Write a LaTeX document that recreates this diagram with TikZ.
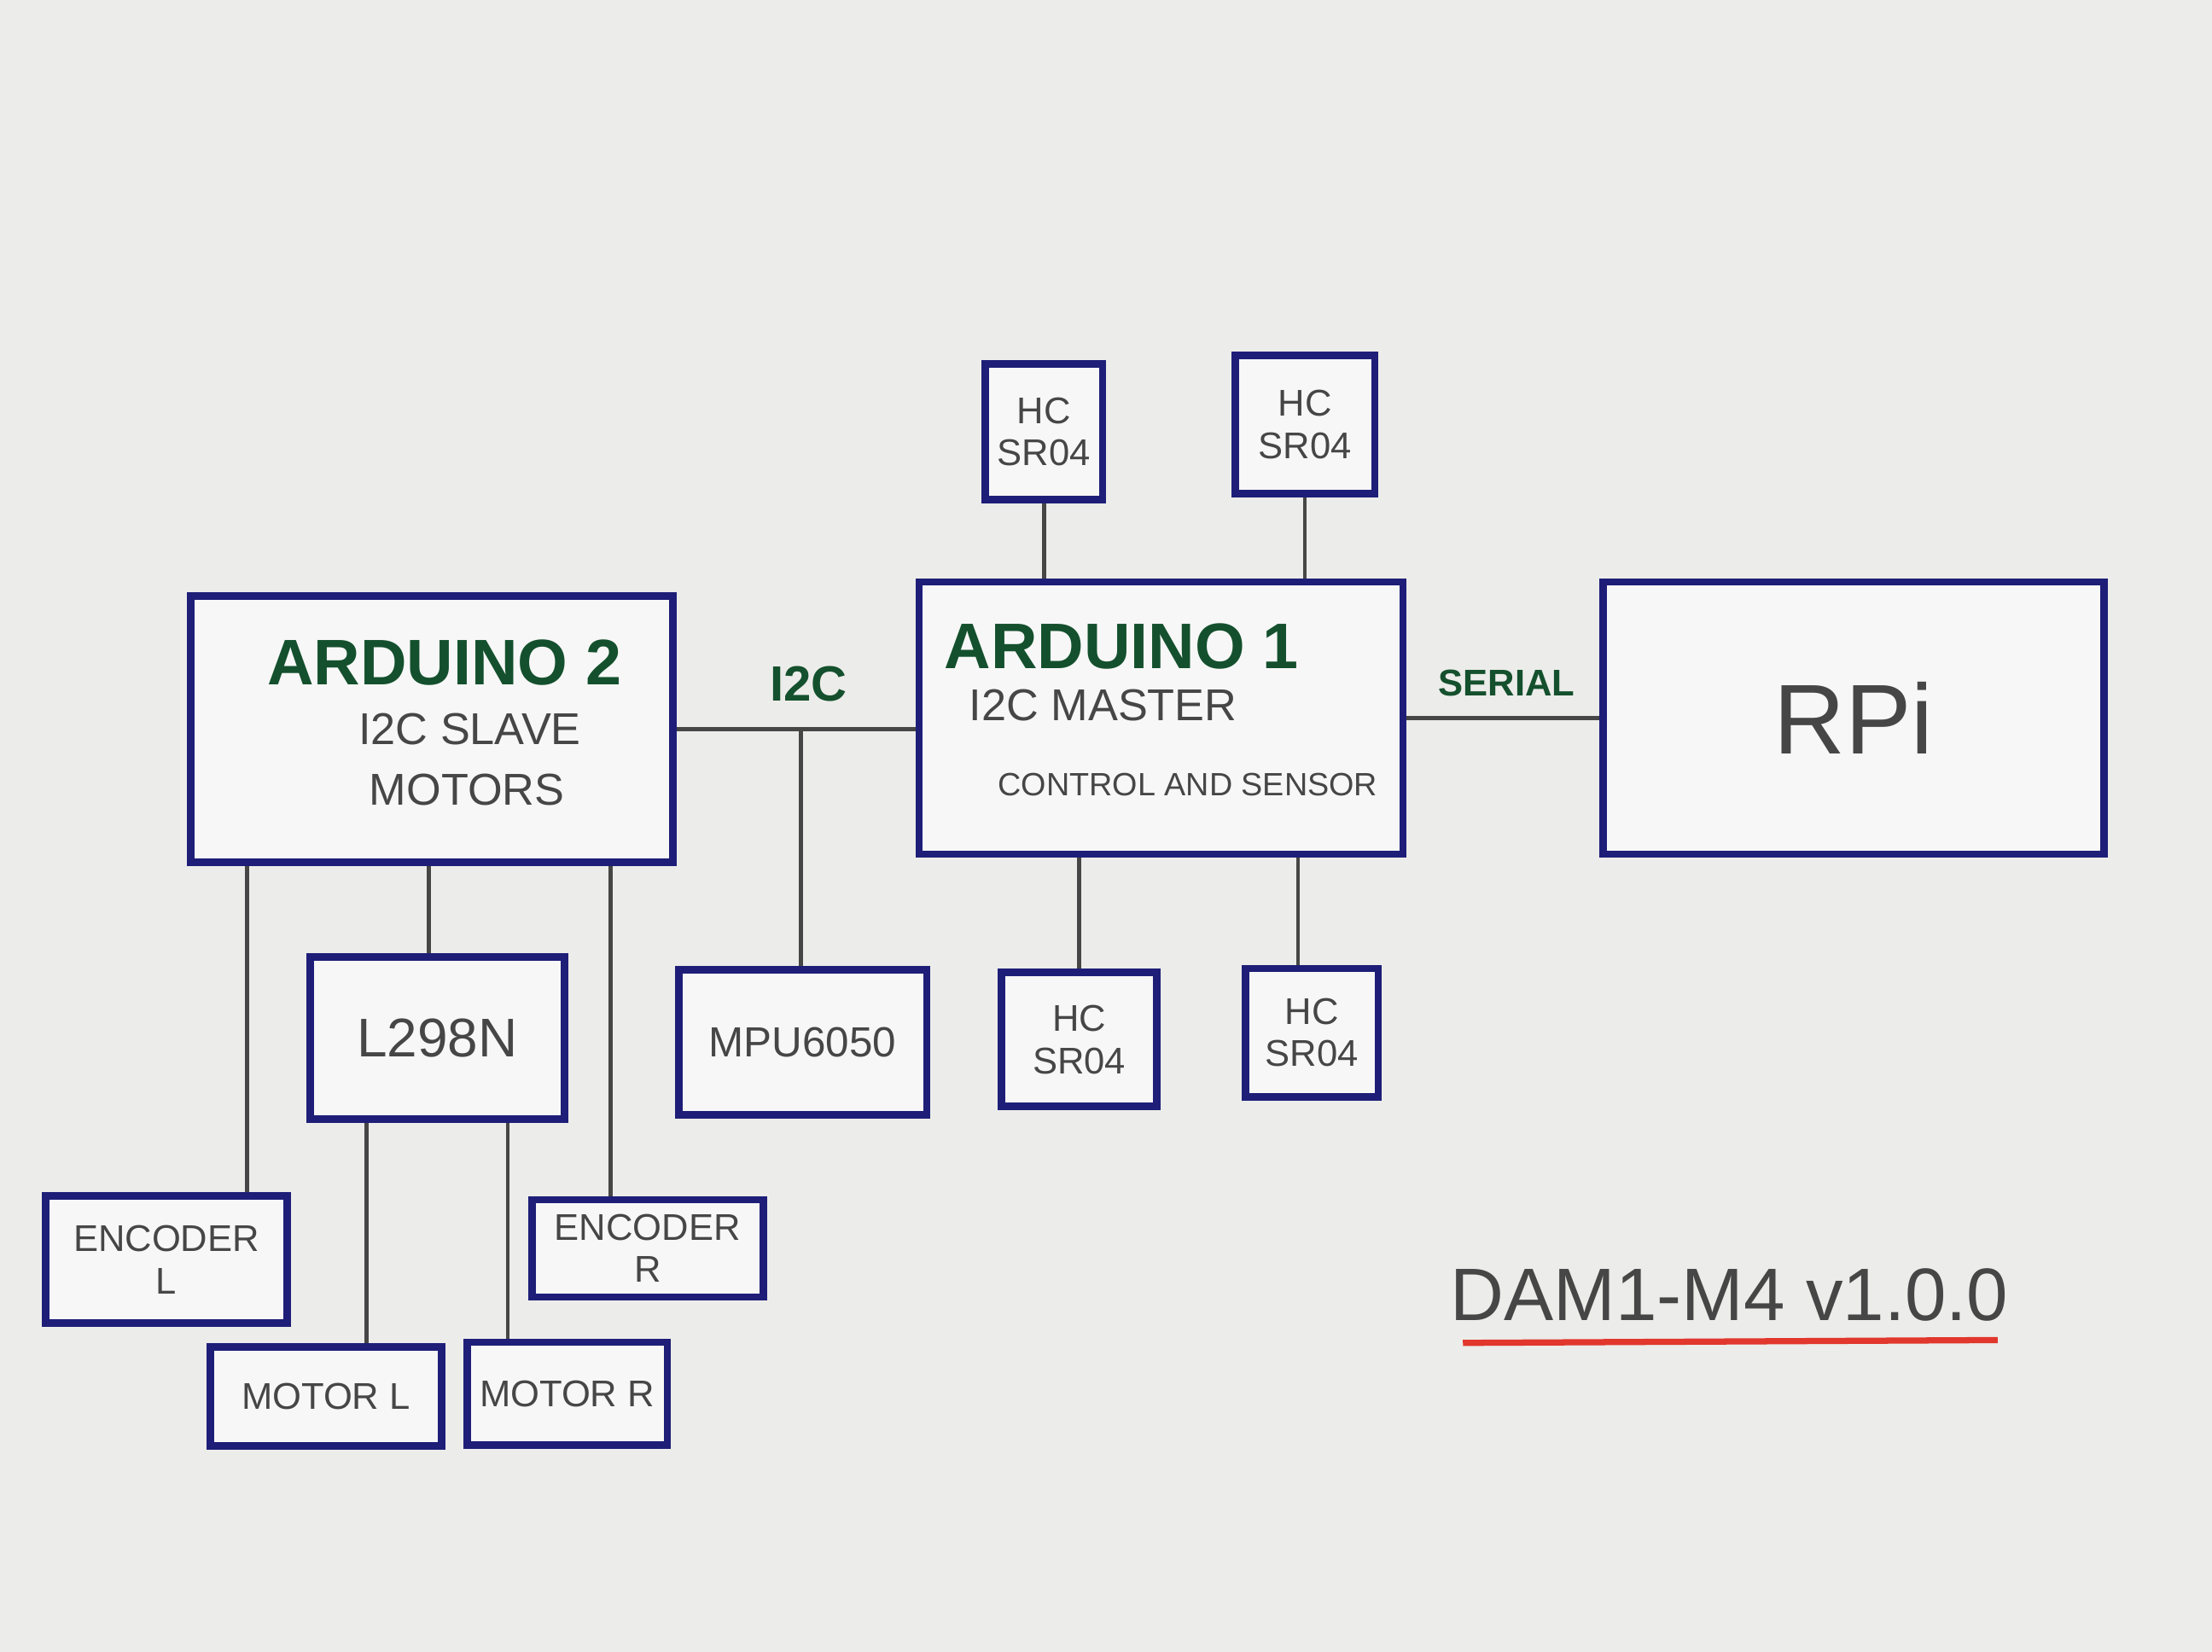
\documentclass[tikz,border=0pt]{standalone}
\usepackage{fontspec}
\setmainfont{Liberation Sans}
\usetikzlibrary{calc}
\definecolor{paper}{RGB}{236,236,234}
\definecolor{pen}{RGB}{30,30,120}
\definecolor{ink}{RGB}{70,70,70}
\definecolor{marker}{RGB}{20,80,45}
\definecolor{redline}{RGB}{225,55,45}

\begin{document}
\begin{tikzpicture}[x=0.02cm,y=-0.02cm,
    box/.style={draw=pen,line width=3pt,fill=white!60!paper,inner sep=0pt,font=\fontsize{15}{17}\selectfont,text=ink,align=center},
    wire/.style={draw=ink,line width=1.6pt},
    green/.style={text=marker,font=\fontsize{26}{28}\selectfont\bfseries},
    note/.style={text=ink,font=\fontsize{18}{20}\selectfont}]

    \fill [paper] (0,0) rectangle (1568,1171);

    % main boards
    \node [box,minimum width=6.84cm,minimum height=3.78cm] (ard2) at (306,517) {};
    \node [box,minimum width=6.86cm,minimum height=3.86cm] (ard1) at (823,509) {};
    \node [box,minimum width=7.1cm,minimum height=3.86cm,font=\fontsize{40}{42}\selectfont] (rpi) at (1314,509) {RPi};

    \node [green] (ard2t) at (315,470) {ARDUINO 2};
    \node [note] (ard2a) at (333,517) {I2C SLAVE};
    \node [note] (ard2b) at (331,560) {MOTORS};
    \node [green] (ard1t) at (795,458) {ARDUINO 1};
    \node [note] (ard1a) at (782,500) {I2C MASTER};
    \node [note,font=\fontsize{13}{15}\selectfont] (ard1b) at (842,556) {CONTROL AND SENSOR};

    % sensors and drivers
    \node [box,minimum width=1.66cm,minimum height=1.92cm] (hc1) at (740,306) {HC\\SR04};
    \node [box,minimum width=1.98cm,minimum height=1.96cm] (hc2) at (925,301) {HC\\SR04};
    \node [box,minimum width=2.2cm,minimum height=1.9cm] (hc3) at (765,737) {HC\\SR04};
    \node [box,minimum width=1.88cm,minimum height=1.82cm] (hc4) at (930,732) {HC\\SR04};
    \node [box,minimum width=3.52cm,minimum height=2.06cm,font=\fontsize{17}{19}\selectfont] (mpu) at (569,739) {MPU6050};
    \node [box,minimum width=3.6cm,minimum height=2.3cm,font=\fontsize{22}{24}\selectfont] (drv) at (310,736) {L298N};
    \node [box,minimum width=3.42cm,minimum height=1.8cm] (encl) at (118,893) {ENCODER\\L};
    \node [box,minimum width=3.28cm,minimum height=1.38cm] (encr) at (459,885) {ENCODER\\R};
    \node [box,minimum width=3.28cm,minimum height=1.4cm] (motl) at (231,990) {MOTOR L};
    \node [box,minimum width=2.84cm,minimum height=1.46cm] (motr) at (402,988) {MOTOR R};

    % tap points
    \coordinate (hc4tap) at ($(hc4.north)+(-10,0)$);
    \coordinate (encltap) at ($(encl.north)+(57,0)$);
    \coordinate (drvtap) at ($(drv.north)+(-6,0)$);
    \coordinate (encrtap) at ($(encr.north)+(-26,0)$);
    \coordinate (motltap) at ($(motl.north)+(29,0)$);
    \coordinate (motrtap) at ($(motr.north)+(-42,0)$);

    % buses
    \draw [wire] (ard2.east) -- (ard2.east -| ard1.west) coordinate [pos=0.52] (bus);
    \draw [wire] (bus) -- (bus |- mpu.north);
    \node [green,font=\fontsize{20}{22}\selectfont\bfseries] (i2c) at (573,485) {I2C};
    \draw [wire] (ard1.east) -- (rpi.west);
    \node [green,font=\fontsize{15}{17}\selectfont\bfseries] (ser) at (1068,484) {SERIAL};

    \draw [wire] (hc1.south) -- (hc1.south |- ard1.north);
    \draw [wire] (hc2.south) -- (hc2.south |- ard1.north);
    \draw [wire] (ard1.south -| hc3.north) -- (hc3.north);
    \draw [wire] (hc4tap |- ard1.south) -- (hc4tap);

    \draw [wire] (encltap |- ard2.south) -- (encltap);
    \draw [wire] (drvtap |- ard2.south) -- (drvtap);
    \draw [wire] (encrtap |- ard2.south) -- (encrtap);
    \draw [wire] (motltap |- drv.south) -- (motltap);
    \draw [wire] (motrtap |- drv.south) -- (motrtap);

    % title
    \node [text=ink,font=\fontsize{30}{32}\selectfont] (title) at (1226,918) {DAM1-M4 v1.0.0};
    \draw [redline,line width=2.5pt] (1037,952) -- (1416,950);
\end{tikzpicture}
\end{document}
